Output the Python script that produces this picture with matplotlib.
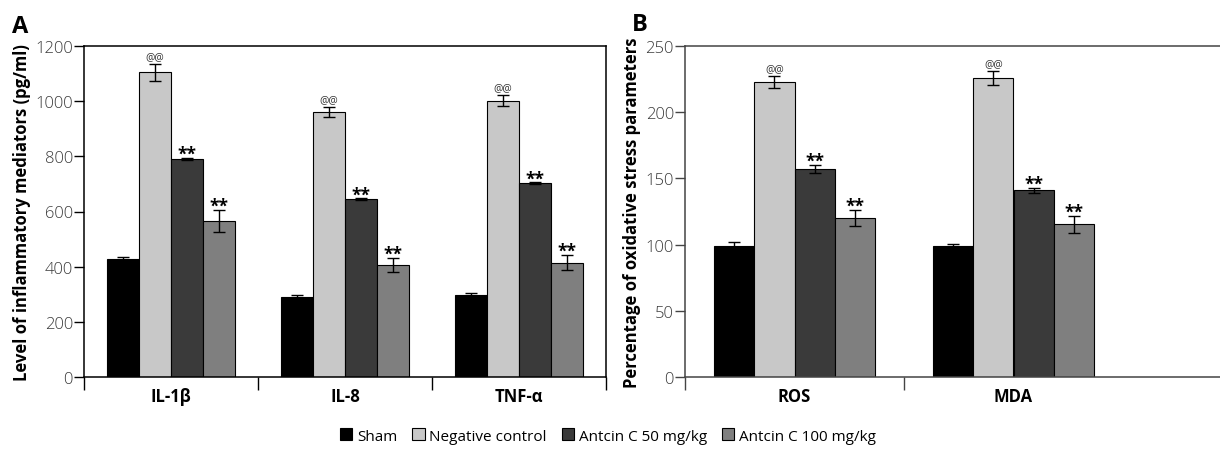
import numpy as np
import matplotlib
matplotlib.use("Agg")
import matplotlib.pyplot as plt
from matplotlib.patches import Patch

plt.rcParams['font.family'] = ['Open Sans', 'DejaVu Sans']

# data
groups = ['Sham', 'Negative control', 'Antcin C 50 mg/kg', 'Antcin C 100 mg/kg']
colors = ['#000000', '#c8c8c8', '#3a3a3a', '#7f7f7f']
marks = ['', '@@', '**', '**']

cats_a = ['IL-1β', 'IL-8', 'TNF-α']
vals_a = [[426, 291, 297],
          [1104, 961, 1001],
          [790, 644, 702],
          [565, 406, 415]]
errs_a = [[8, 6, 7],
          [30, 19, 20],
          [5, 4, 4],
          [40, 26, 28]]

cats_b = ['ROS', 'MDA']
vals_b = [[99.1, 98.6],
          [222.8, 225.9],
          [157.4, 141.1],
          [120.2, 115.2]]
errs_b = [[2.8, 2.0],
          [4.2, 5.0],
          [3.0, 2.0],
          [5.8, 6.4]]

W, H = 1220, 452
fig = plt.figure(figsize=(W / 100, H / 100), dpi=100)

ax_a = fig.add_axes([84 / W, (H - 378) / H, (606 - 84) / W, (378 - 47) / H])
ax_b = fig.add_axes([685 / W, (H - 378) / H, (W - 685) / W, (378 - 47) / H])


def draw(ax, cats, vals, errs, ymax, ystep, ylabel, xmax, edge, bnds):
    x = np.arange(len(cats))
    bw = 0.184
    for i in range(4):
        pos = x + (i - 1.5) * bw
        ax.bar(pos, vals[i], bw, color=colors[i], edgecolor='black', linewidth=0.8,
               yerr=errs[i], capsize=4, error_kw=dict(elinewidth=1, capthick=1, ecolor='black'),
               zorder=2)
        for p, v, e in zip(pos, vals[i], errs[i]):
            if marks[i] == '@@':
                ax.text(p, v + e + ymax * 0.006, '@@', ha='center', va='bottom', fontsize=7.5, color='#333333')
            elif marks[i] == '**':
                ax.text(p, v + e - ymax * 0.015, '**', ha='center', va='bottom', fontsize=12.5,
                        fontweight='bold', color='black')
    ax.set_xlim(-0.5, xmax)
    ax.set_ylim(0, ymax)
    ax.set_yticks(np.arange(0, ymax + 1, ystep))
    ax.set_xticks(x)
    ax.set_xticklabels(cats, fontsize=12, fontweight='bold')
    ax.set_xticks(bnds, minor=True)
    ax.tick_params(axis='x', which='major', length=0, pad=7)
    ax.tick_params(axis='x', which='minor', length=9, width=1, color=edge, direction='out')
    ax.tick_params(axis='y', length=7, width=1, color=edge, labelsize=12, labelcolor='#3a3a3a', pad=1)
    for s in ax.spines.values():
        s.set_color(edge)
        s.set_linewidth(1.1)
    ax.set_ylabel(ylabel, fontsize=12, fontweight='bold', labelpad=3)


draw(ax_a, cats_a, vals_a, errs_a, 1200, 200, 'Level of inflammatory mediators (pg/ml)',
     2.5, 'black', [-0.5, 0.5, 1.5, 2.5])
draw(ax_b, cats_b, vals_b, errs_b, 250, 50, 'Percentage of oxidative stress parameters',
     -0.5 + (W - 685) / 219, '#444444', [-0.5, 0.5])
ax_b.spines['right'].set_visible(False)
for lab in ax_a.get_yticklabels() + ax_b.get_yticklabels():
    lab.set_fontweight('light')

fig.text(12 / W, 1 - 33 / H, 'A', fontsize=17, fontweight='bold', ha='left', va='baseline')
fig.text(632 / W, 1 - 31 / H, 'B', fontsize=17, fontweight='bold', ha='left', va='baseline')

handles = [Patch(facecolor=c, edgecolor='black', linewidth=0.8) for c in colors]
fig.legend(handles, groups, loc='center', bbox_to_anchor=(608 / W, 1 - 437 / H), ncol=4,
           frameon=False, fontsize=11, handlelength=0.8, handleheight=0.8,
           handletextpad=0.3, columnspacing=1.0, borderaxespad=0)

fig.savefig('out.png', dpi=100)
